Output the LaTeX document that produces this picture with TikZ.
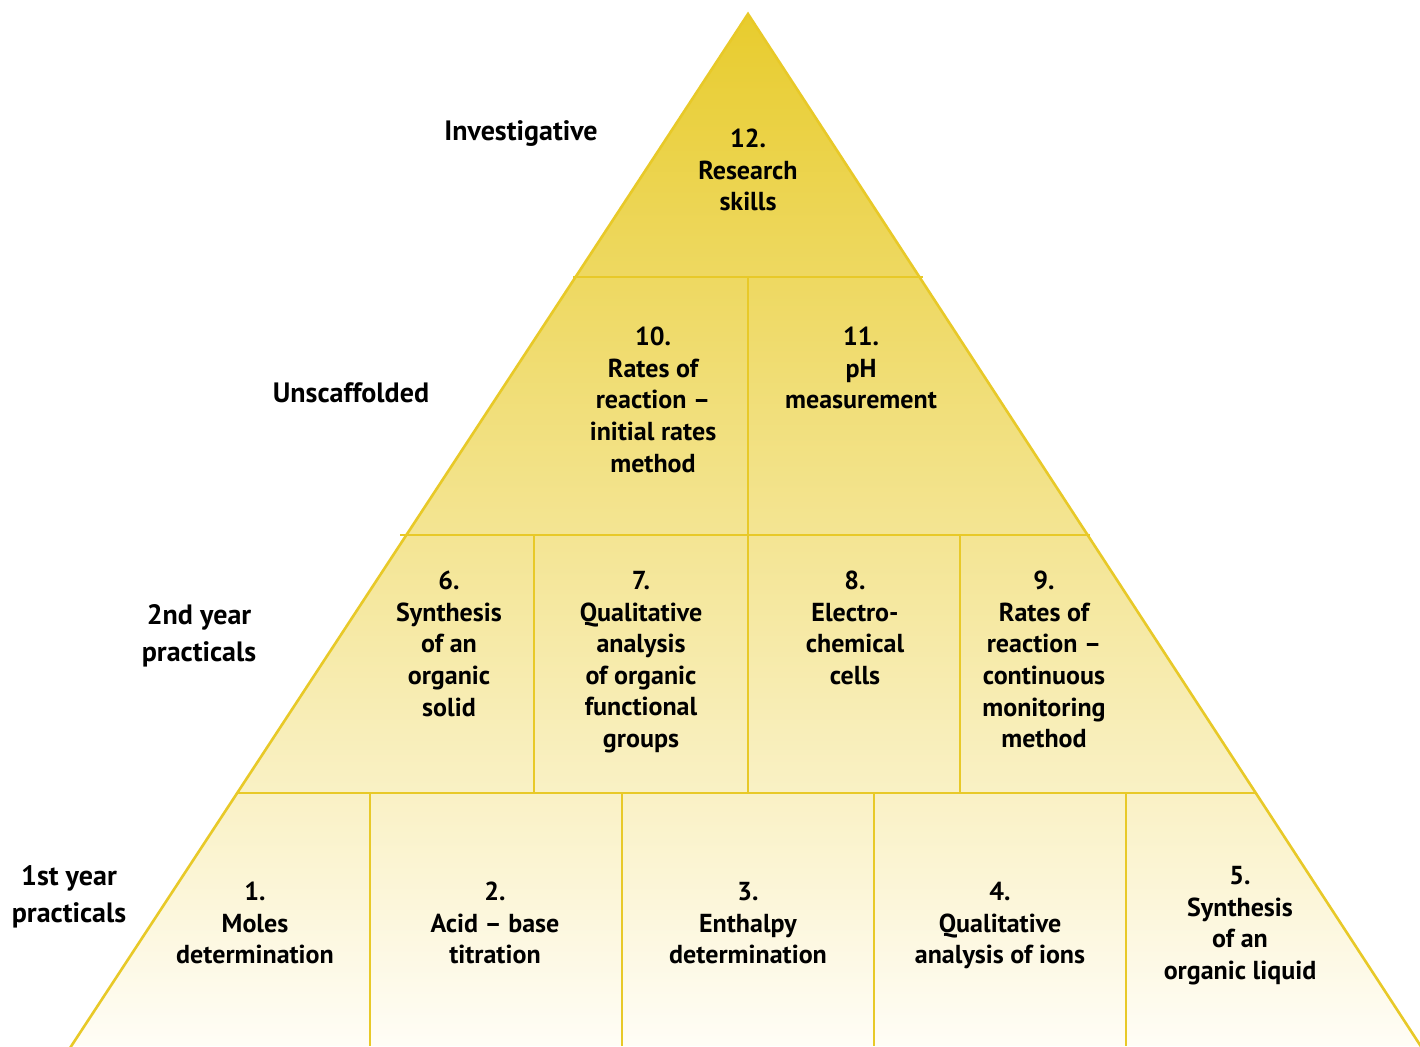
\documentclass[tikz,border=0pt]{standalone}
\usepackage{fontspec}
\setmainfont{PT Sans}
\definecolor{edge}{RGB}{232,201,40}
\definecolor{topfill}{RGB}{232,204,46}
\definecolor{midfill}{RGB}{242,228,142}
\definecolor{botfill}{RGB}{255,253,246}
\begin{document}
\begin{tikzpicture}[x=1pt,y=-1pt,
  rule/.style={draw=edge,line width=2.6pt},
  cell/.style={align=center,anchor=north,font=\bfseries\fontsize{26}{31.6}\selectfont,inner sep=0pt},
  tier/.style={align=center,font=\bfseries\fontsize{28}{36.5}\selectfont,inner sep=0pt}]
\useasboundingbox (0,0) rectangle (1420,1046);
\fill[white] (0,0) rectangle (1420,1046);
% pyramid body with vertical gradient
\shade[top color=topfill,middle color=midfill,bottom color=botfill]
  (748,14) -- (1422,1046) -- (72,1046) -- cycle;
\begin{scope}
\clip (0,0) rectangle (1420,1046);
\draw[rule,line join=miter] (70,1048) -- (748,14) -- (1422,1048);
\end{scope}
% tier boundaries
\draw[rule] (573,277) -- (923,277);
\draw[rule] (400,535) -- (1090,535);
\draw[rule] (237,793) -- (1257,793);
% cell dividers
\draw[rule] (748,277) -- (748,535);
\foreach \x in {534,748,960} \draw[rule] (\x,535) -- (\x,793);
\foreach \x in {370,622,874,1126} \draw[rule] (\x,793) -- (\x,1046);
% tier names
\node[tier] (inv) at (521,134) {Investigative};
\node[tier] (uns) at (351,393) {Unscaffolded};
\node[tier] (second) at (199,636) {2nd year\\practicals};
\node[tier] (first) at (69,897) {1st year\\practicals};
% practicals (anchored at the top of the number line)
\node[cell] (p12) at (748,129) {12.\\Research\\skills};
\node[cell] (p10) at (653,327) {10.\\Rates of\\reaction –\\initial rates\\method};
\node[cell] (p11) at (861,327) {11.\\pH\\measurement};
\node[cell] (p6) at (449,571) {6.\\Synthesis\\of an\\organic\\solid};
\node[cell] (p7) at (641,571) {7.\\Qualitative\\analysis\\of organic\\functional\\groups};
\node[cell] (p8) at (855,571) {8.\\Electro-\\chemical\\cells};
\node[cell] (p9) at (1044,571) {9.\\Rates of\\reaction –\\continuous\\monitoring\\method};
\node[cell] (p1) at (255,882) {1.\\Moles\\determination};
\node[cell] (p2) at (495,882) {2.\\Acid – base\\titration};
\node[cell] (p3) at (748,882) {3.\\Enthalpy\\determination};
\node[cell] (p4) at (1000,882) {4.\\Qualitative\\analysis of ions};
\node[cell] (p5) at (1240,866) {5.\\Synthesis\\of an\\organic liquid};
\end{tikzpicture}
\end{document}
